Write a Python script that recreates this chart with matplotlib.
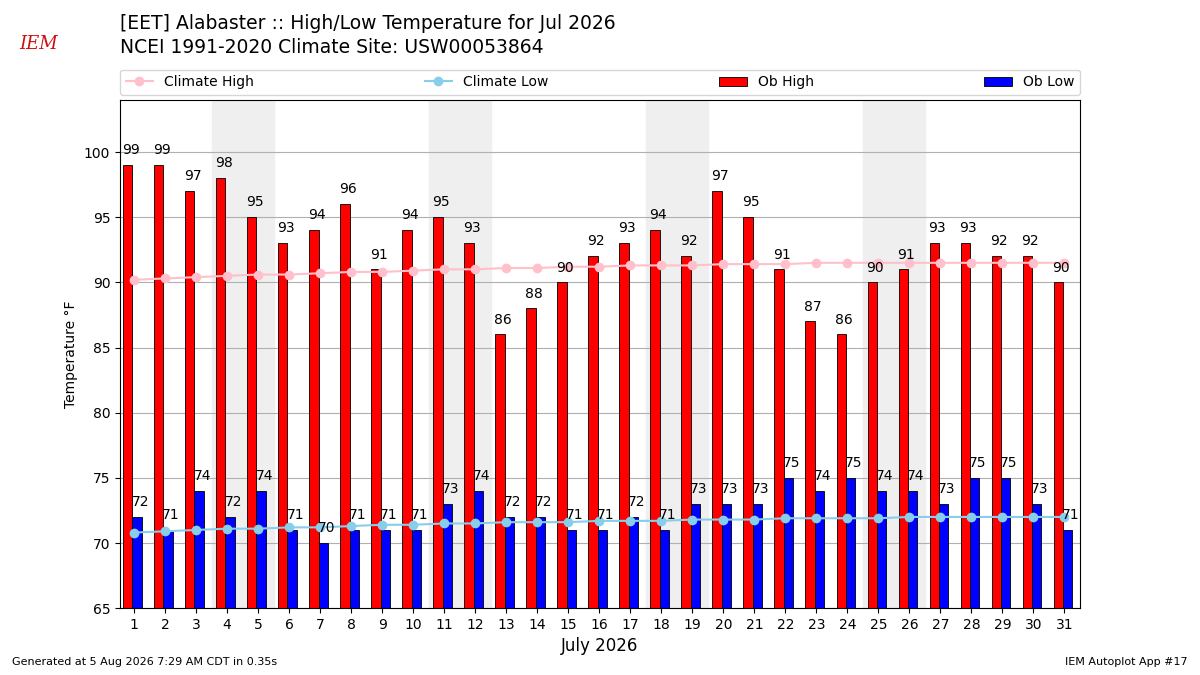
import matplotlib
matplotlib.use("Agg")
import matplotlib.pyplot as plt
import numpy as np

days = list(range(1, 32))
ob_high = [99,99,97,98,95,93,94,96,91,94,95,93,86,88,90,92,93,94,92,97,95,91,87,86,90,91,93,93,92,92,90]
ob_low = [72,71,74,72,74,71,70,71,71,71,73,74,72,72,71,71,72,71,73,73,73,75,74,75,74,74,73,75,75,73,71]
clim_high = [90.2,90.3,90.4,90.5,90.6,90.6,90.7,90.8,90.8,90.9,91.0,91.0,91.1,91.1,91.2,91.2,91.3,91.3,91.3,91.4,91.4,91.4,91.5,91.5,91.5,91.5,91.5,91.5,91.5,91.5,91.5]
clim_low = [70.8,70.9,71.0,71.1,71.1,71.2,71.2,71.3,71.4,71.4,71.5,71.5,71.6,71.6,71.6,71.7,71.7,71.7,71.8,71.8,71.8,71.9,71.9,71.9,71.9,72.0,72.0,72.0,72.0,72.0,72.0]
weekends = [4, 11, 18, 25]

fig = plt.figure(figsize=(12, 6.75), dpi=100)
ax = fig.add_axes([0.1, 0.099, 0.8, 0.753])
x = np.array(days)
for w in weekends:
    ax.axvspan(w - 0.5, w + 1.5, color="#efefef", zorder=0)
ax.grid(axis="y", color="#b0b0b0", lw=0.8, zorder=1)
bh = ax.bar(x - 0.2, ob_high, width=0.3, color="red", edgecolor="black", lw=0.6, zorder=2, label="Ob High")
bl = ax.bar(x + 0.1, ob_low, width=0.3, color="blue", edgecolor="black", lw=0.6, zorder=2, label="Ob Low")
lh, = ax.plot(x, clim_high, color="pink", marker="o", ms=6, lw=1.5, zorder=3, label="Climate High")
ll, = ax.plot(x, clim_low, color="skyblue", marker="o", ms=6, lw=1.5, zorder=3, label="Climate Low")
for xi, h, l in zip(x, ob_high, ob_low):
    ax.text(xi - 0.1, h + 0.6, str(h), ha="center", va="bottom", fontsize=10, zorder=4)
    ax.text(xi + 0.2, l + 0.6, str(l), ha="center", va="bottom", fontsize=10, zorder=4)
ax.set_ylim(65, 104)
ax.set_xlim(0.55, 31.5)
ax.set_xticks(days)
ax.set_yticks(range(65, 101, 5))
ax.set_xlabel("July 2026", fontsize=12)
ax.set_ylabel("Temperature °F")
ax.legend(handles=[lh, ll, bh, bl], loc="lower left", bbox_to_anchor=(0, 1.01, 1, 0.05),
          ncol=4, mode="expand", borderaxespad=0, fontsize=10)
fig.text(0.1, 0.965, "[EET] Alabaster :: High/Low Temperature for Jul 2026", fontsize=13.5, va="center")
fig.text(0.1, 0.93, "NCEI 1991-2020 Climate Site: USW00053864", fontsize=13.5, va="center")
fig.text(0.01, 0.015, "Generated at 5 Aug 2026 7:29 AM CDT in 0.35s", fontsize=8)
fig.text(0.99, 0.015, "IEM Autoplot App #17", fontsize=8, ha="right")
fig.text(0.032, 0.935, "IEM", color="#cc1111", fontsize=13, style="italic", family="DejaVu Serif", ha="center", va="center")
fig.savefig("out.png", dpi=100)
